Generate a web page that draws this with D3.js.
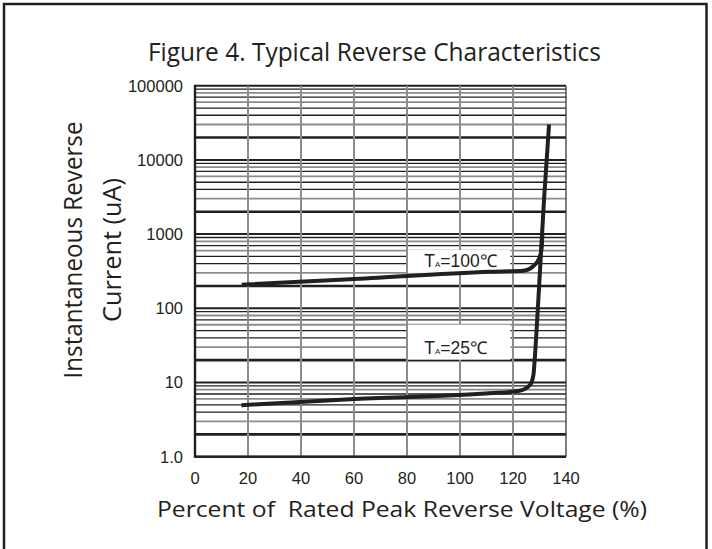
<!DOCTYPE html>
<html>
<head>
<meta charset="utf-8">
<script src="https://cdn.jsdelivr.net/npm/d3@7"></script>
<style>
  body { margin: 0; background: #fff; }
  #chart { width: 712px; height: 549px; }
</style>
</head>
<body>
<div id="chart"></div>
<script>
// values
const xTicks = [0, 20, 40, 60, 80, 100, 120, 140];
const yTicks = [1, 10, 100, 1000, 10000, 100000];
const yTickLabels = ["1.0", "10", "100", "1000", "10000", "100000"];

// percent of rated voltage, current in uA
const curve25x = [17.5, 58.5, 111, 122.5, 126.4, 127.7, 128.1, 128.9, 130.2, 131.7, 133.6];
const curve25y = [4.95, 5.95, 7.15, 7.75, 9.25, 12.6, 18.3, 51, 328, 2880, 30000];
const curve100x = [17.6, 58.5, 111.3, 123.9, 127.7, 129.9, 130.7, 131.1];
const curve100y = [208, 246, 311, 321, 372, 472, 611, 1000];

const labels = ["T|A|=100℃", "T|A|=25℃"];

const width = 712, height = 549;
const svg = d3.select("#chart").append("svg")
    .attr("width", width)
    .attr("height", height);

const x = d3.scaleLinear().domain([0, 140]).range([195, 566]);
const y = d3.scaleLog().domain([1, 100000]).range([456.7, 85.7]);

// outer frame
svg.append("rect")
    .attr("x", 4).attr("y", 4)
    .attr("width", 702.5).attr("height", 570)
    .attr("fill", "none")
    .attr("stroke", "#231f20")
    .attr("stroke-width", 2.5);

// horizontal log grid
const minor = [];
yTicks.slice(0, -1).forEach(d => {
    for (let m = 2; m <= 9; m++) minor.push({ v: d * m, m: m });
});
const grid = svg.append("g");
grid.selectAll("line.minor")
    .data(minor)
    .join("line")
    .attr("class", "minor")
    .attr("x1", x(0)).attr("x2", x(140))
    .attr("y1", d => y(d.v)).attr("y2", d => y(d.v))
    .attr("stroke", d => (d.m == 3 || d.m == 6 || d.m == 8) ? "#8c8c8c" : "#231f20")
    .attr("stroke-width", d => d.m == 2 ? 2.6 : (d.m == 3 || d.m == 6 || d.m == 8) ? 1.8 : 1.3);

grid.selectAll("line.major")
    .data(yTicks)
    .join("line")
    .attr("class", "major")
    .attr("x1", x(0)).attr("x2", x(140))
    .attr("y1", d => y(d)).attr("y2", d => y(d))
    .attr("stroke", "#231f20")
    .attr("stroke-width", 2);

// vertical grid
grid.selectAll("line.vert")
    .data(xTicks.slice(1, -1))
    .join("line")
    .attr("class", "vert")
    .attr("x1", d => x(d)).attr("x2", d => x(d))
    .attr("y1", y(100000)).attr("y2", y(1))
    .attr("stroke", "#8c8c8c")
    .attr("stroke-width", 2);

// right edge
grid.append("line")
    .attr("x1", x(140)).attr("x2", x(140))
    .attr("y1", y(100000)).attr("y2", y(1))
    .attr("stroke", "#3a3a3a").attr("stroke-width", 1.3);

// left and bottom axis lines
grid.append("line")
    .attr("x1", x(0)).attr("x2", x(0))
    .attr("y1", y(100000) - 1).attr("y2", y(1) + 1)
    .attr("stroke", "#231f20").attr("stroke-width", 2.4);
grid.append("line")
    .attr("x1", x(0)).attr("x2", x(140))
    .attr("y1", y(1)).attr("y2", y(1))
    .attr("stroke", "#231f20").attr("stroke-width", 2.4);

// white label boxes over the grid
const boxes = [[80, 119.4, 300, 610], [80, 119.4, 20.3, 60]];
svg.append("g").selectAll("rect")
    .data(boxes)
    .join("rect")
    .attr("x", d => x(d[0]) + 1)
    .attr("width", d => x(d[1]) - x(d[0]) - 2)
    .attr("y", d => y(d[3]))
    .attr("height", d => y(d[2]) - y(d[3]))
    .attr("fill", "#fff");

// curves
const line = d3.line()
    .x(d => x(d[0]))
    .y(d => y(d[1]))
    .curve(d3.curveMonotoneX);

const series = [d3.zip(curve100x, curve100y), d3.zip(curve25x, curve25y)];
svg.append("g").selectAll("path")
    .data(series)
    .join("path")
    .attr("d", line)
    .attr("fill", "none")
    .attr("stroke", "#231f20")
    .attr("stroke-width", 4)
    .attr("stroke-linecap", "butt");

// curve labels
const labelPos = [[86.5, 10 ** ((456.7 - 267.3) / 74.2)], [86.5, 10 ** ((456.7 - 354.3) / 74.2)]];
labels.forEach((s, i) => {
    const parts = s.split("|");
    const t = svg.append("text")
        .attr("x", x(labelPos[i][0]))
        .attr("y", y(labelPos[i][1]))
        .attr("font-family", "'Liberation Sans', Arial, sans-serif")
        .attr("font-size", 17.5)
        .attr("fill", "#231f20");
    t.append("tspan").text(parts[0]);
    t.append("tspan").attr("font-size", 8).text(parts[1]);
    t.append("tspan").text(parts[2]);
});

// tick labels
svg.append("g").selectAll("text")
    .data(yTicks)
    .join("text")
    .attr("x", 183)
    .attr("y", d => y(d))
    .attr("dy", "0.36em")
    .attr("text-anchor", "end")
    .attr("font-family", "'Liberation Sans', Arial, sans-serif")
    .attr("font-size", 16.5)
    .attr("fill", "#231f20")
    .text((d, i) => yTickLabels[i]);

svg.append("g").selectAll("text")
    .data(xTicks)
    .join("text")
    .attr("x", d => x(d))
    .attr("y", 484)
    .attr("text-anchor", "middle")
    .attr("font-family", "'Liberation Sans', Arial, sans-serif")
    .attr("font-size", 16.5)
    .attr("fill", "#231f20")
    .text(d => d);

// titles
svg.append("text")
    .attr("x", 148).attr("y", 61)
    .attr("textLength", 453).attr("lengthAdjust", "spacingAndGlyphs")
    .attr("font-family", "'Open Sans', sans-serif")
    .attr("font-size", 25)
    .attr("fill", "#231f20")
    .text("Figure 4. Typical Reverse Characteristics");

svg.append("text")
    .attr("x", 157).attr("y", 517)
    .attr("textLength", 490).attr("lengthAdjust", "spacingAndGlyphs")
    .attr("font-family", "'Open Sans', sans-serif")
    .attr("font-size", 22)
    .attr("fill", "#231f20")
    .style("white-space", "pre")
    .text("Percent of  Rated Peak Reverse Voltage (%)");

const yTitle = svg.append("text")
    .attr("transform", "translate(82,250) rotate(-90)")
    .attr("text-anchor", "middle")
    .attr("font-family", "'Open Sans', sans-serif")
    .attr("font-size", 25)
    .attr("fill", "#231f20");
yTitle.append("tspan").attr("x", 0).attr("y", 0)
    .attr("textLength", 257).attr("lengthAdjust", "spacingAndGlyphs")
    .text("Instantaneous Reverse");
yTitle.append("tspan").attr("x", 0).attr("y", 38.5)
    .attr("textLength", 144).attr("lengthAdjust", "spacingAndGlyphs")
    .text("Current (uA)");
</script>
</body>
</html>
